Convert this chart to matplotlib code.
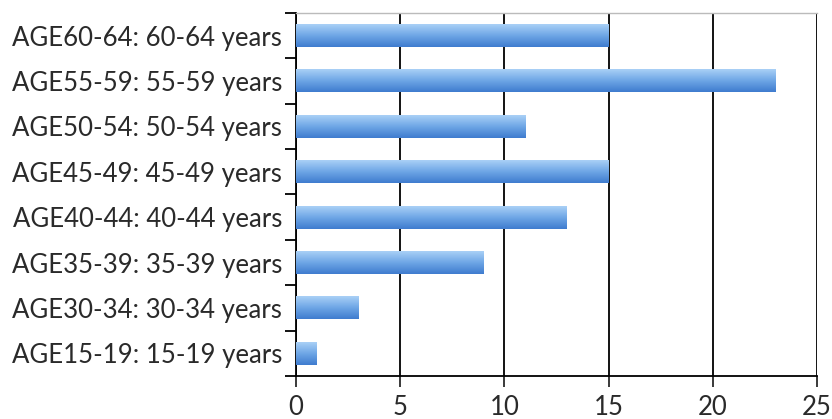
import matplotlib
matplotlib.use("Agg")
import matplotlib.pyplot as plt
import numpy as np
from matplotlib.colors import LinearSegmentedColormap

# age groups, bottom to top
groups = ["AGE15-19: 15-19 years", "AGE30-34: 30-34 years", "AGE35-39: 35-39 years",
          "AGE40-44: 40-44 years", "AGE45-49: 45-49 years", "AGE50-54: 50-54 years",
          "AGE55-59: 55-59 years", "AGE60-64: 60-64 years"]
counts = [1, 3, 9, 13, 15, 11, 23, 15]
xticks = [0, 5, 10, 15, 20, 25]

plt.rcParams['font.family'] = ['Lato', 'DejaVu Sans']

fig = plt.figure(figsize=(8.32, 4.19), dpi=100)
ax = fig.add_axes([296 / 832, 1 - 376 / 419, (817 - 296) / 832, (376 - 13) / 419])

ypos = np.arange(len(groups))
bar_h = 0.5
bars = ax.barh(ypos, counts, height=bar_h, color='none', edgecolor='none', zorder=3)

# vertical gradient fill for each bar
grad_cmap = LinearSegmentedColormap.from_list('bar', ['#3f7ccf', '#6ea6e6', '#a9d0f6'])
grad = np.linspace(0, 1, 100).reshape(-1, 1)
for b in bars:
    x0, y0 = b.get_x(), b.get_y()
    w, h = b.get_width(), b.get_height()
    ax.imshow(grad, cmap=grad_cmap, aspect='auto', origin='lower',
              extent=[x0, x0 + w, y0, y0 + h], zorder=3)

ax.set_xlim(0, 25)
ax.set_ylim(-0.5, len(groups) - 0.5)
ax.set_xticks(xticks)
ax.set_yticks(ypos)
ax.set_yticklabels(groups)
ax.set_yticks(np.arange(-0.5, len(groups)), minor=True)

ax.grid(axis='x', color='black', linewidth=1.3, zorder=1)
ax.set_axisbelow(True)

ax.tick_params(axis='y', which='major', length=0, labelsize=18.5, pad=10, colors='#2a2a2a')
ax.tick_params(axis='y', which='minor', length=8, width=1.3, direction='out')
ax.tick_params(axis='x', which='major', length=8, width=1.3, direction='out',
               labelsize=18.5, pad=6, colors='#2a2a2a')

ax.spines['right'].set_visible(False)
ax.spines['top'].set_color('#bbbbbb')
ax.spines['top'].set_linewidth(1)
ax.spines['left'].set_linewidth(1.3)
ax.spines['bottom'].set_linewidth(1.3)

fig.savefig("out.png", dpi=100)
